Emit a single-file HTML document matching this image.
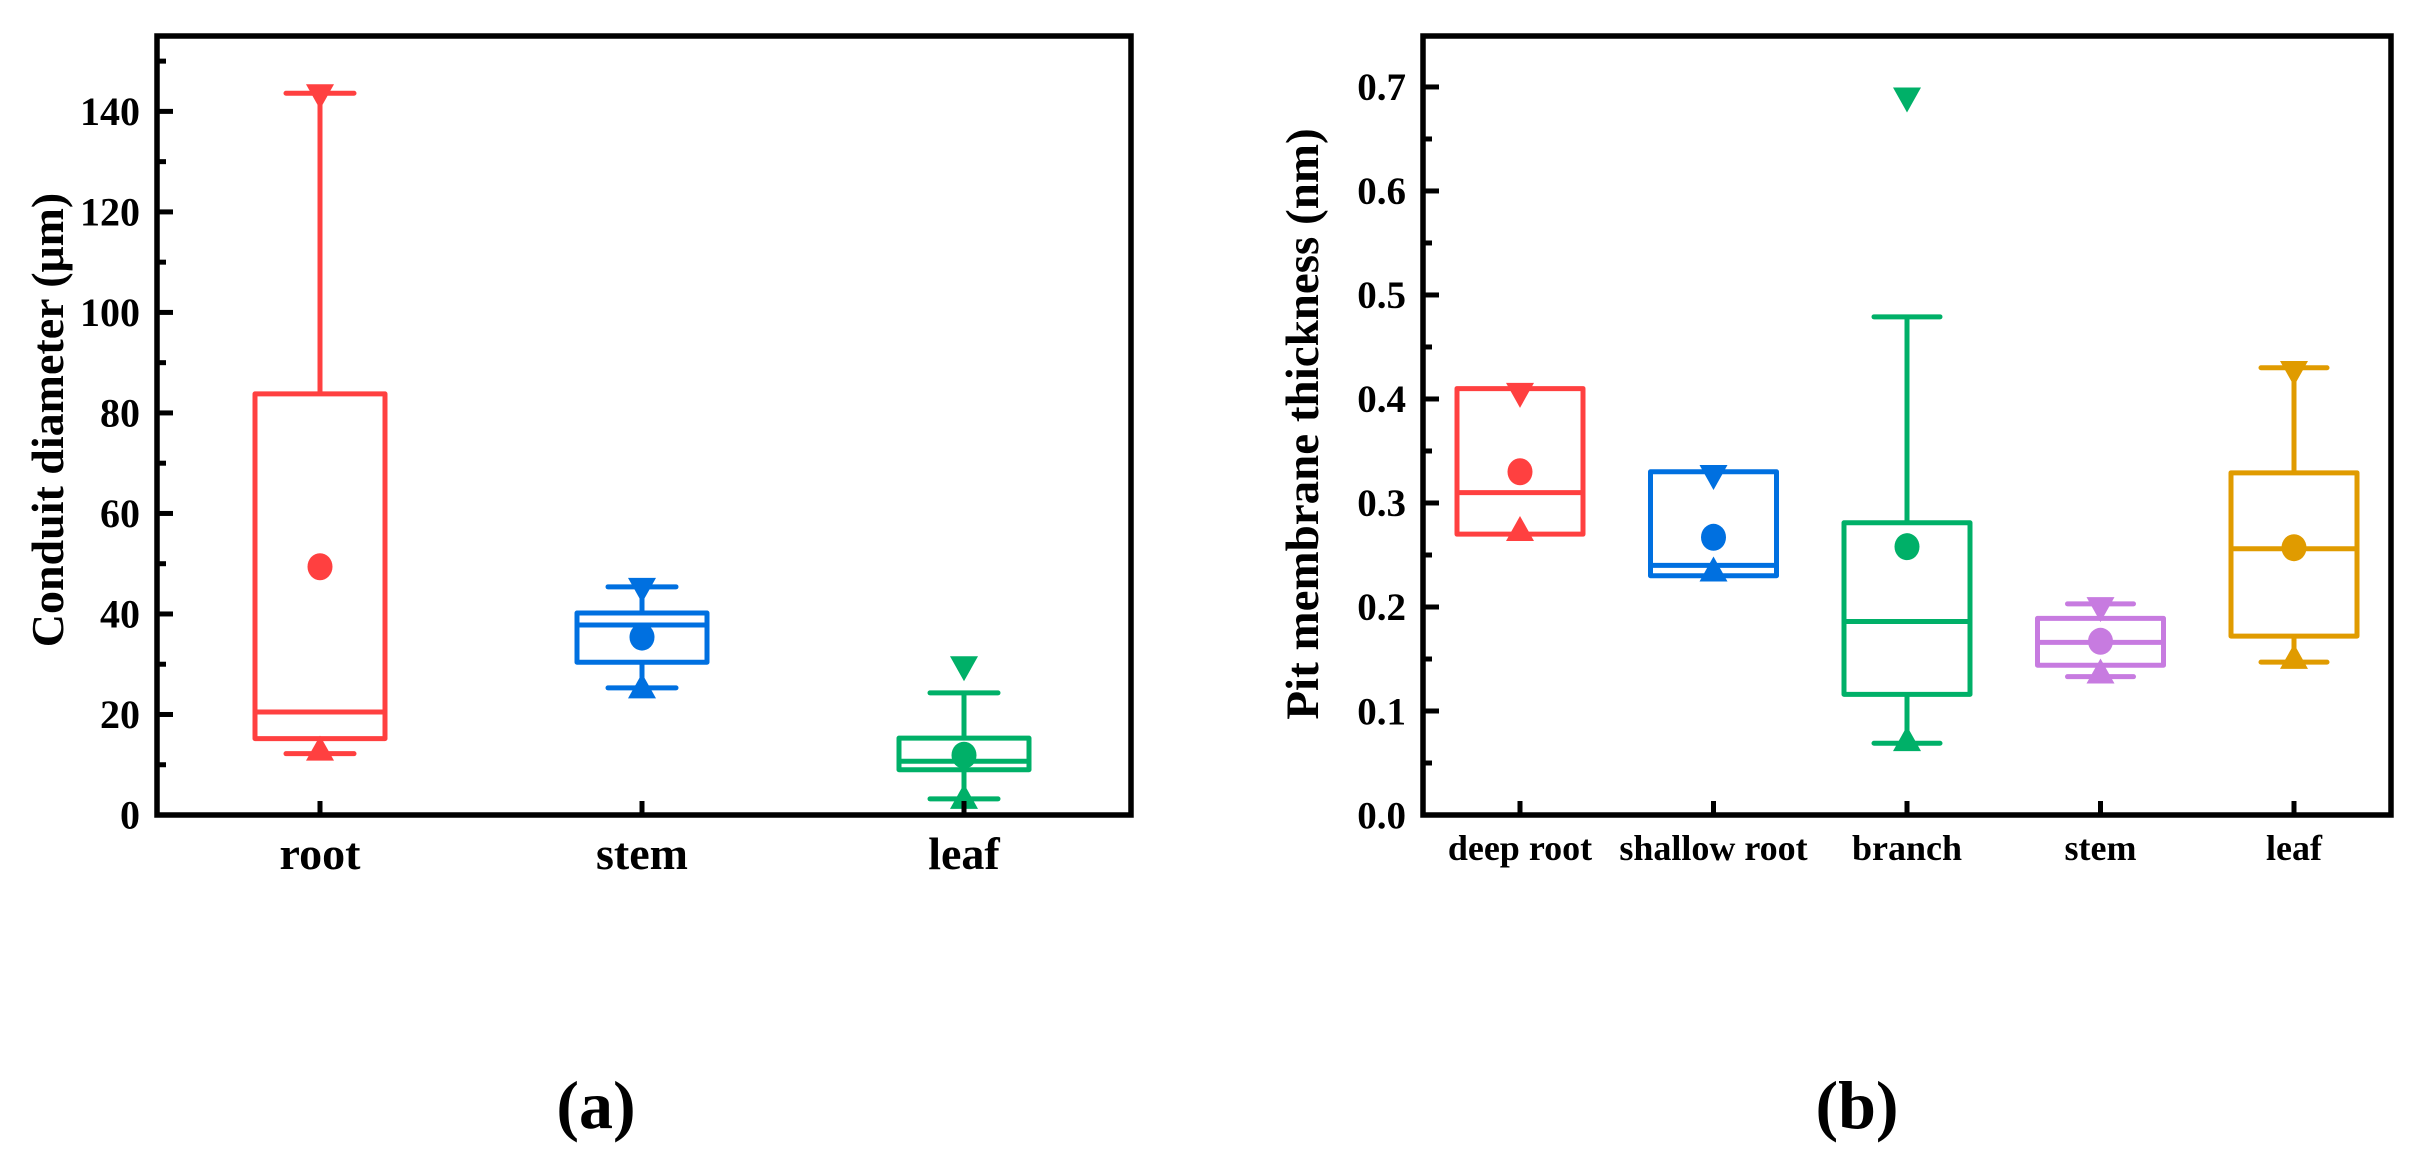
<!DOCTYPE html>
<html><head><meta charset="utf-8">
<style>
html,body{margin:0;padding:0;background:#fff;}
svg{display:block;}
text{font-family:"Liberation Serif",serif;font-weight:bold;fill:#000;}
</style></head>
<body>
<svg id="fig" width="2436" height="1160" viewBox="0 0 2436 1160" xmlns="http://www.w3.org/2000/svg">
<g id="chartA"></g>
<g id="chartB"></g>
<text x="596" y="1128" font-size="68" text-anchor="middle">(a)</text>
<text x="1857" y="1128" font-size="68" text-anchor="middle">(b)</text>
</svg>
<script>
// ---- Chart A data ----
const catsA = ["root", "stem", "leaf"];
const colorsA = ["#ff4040", "#0070e0", "#00b068"];
const whiskerHighA = [143.6, 45.4, 24.3];
const q3A = [83.8, 40.2, 15.3];
const medianA = [20.5, 37.8, 10.7];
const q1A = [15.2, 30.4, 9.0];
const whiskerLowA = [12.2, 25.3, 3.2];
const meanA = [49.4, 35.4, 11.9];
const maxMarkA = [143.0, 44.8, 29.2];
const minMarkA = [13.2, 25.6, 3.6];
const ticksA = [0, 20, 40, 60, 80, 100, 120, 140];
const tickLabelsA = ["0", "20", "40", "60", "80", "100", "120", "140"];

// ---- Chart B data ----
const catsB = ["deep root", "shallow root", "branch", "stem", "leaf"];
const colorsB = ["#ff4040", "#0070e0", "#00b068", "#c77be0", "#e09b00"];
const whiskerHighB = [0.41, 0.33, 0.479, 0.203, 0.43];
const q3B = [0.41, 0.33, 0.281, 0.189, 0.329];
const medianB = [0.31, 0.24, 0.186, 0.166, 0.256];
const q1B = [0.27, 0.23, 0.116, 0.144, 0.172];
const whiskerLowB = [0.27, 0.23, 0.069, 0.133, 0.147];
const meanB = [0.33, 0.267, 0.258, 0.167, 0.257];
const maxMarkB = [0.404, 0.325, 0.688, 0.198, 0.425];
const minMarkB = [0.275, 0.236, 0.073, 0.138, 0.152];
const ticksB = [0, 0.1, 0.2, 0.3, 0.4, 0.5, 0.6, 0.7];
const tickLabelsB = ["0.0", "0.1", "0.2", "0.3", "0.4", "0.5", "0.6", "0.7"];

const NS = "http://www.w3.org/2000/svg";
function mk(tag, attrs, parent){
  const e = document.createElementNS(NS, tag);
  for (const k in attrs) e.setAttribute(k, attrs[k]);
  parent.appendChild(e);
  return e;
}

function drawChart(g, cfg){
  const L=cfg.left, R=cfg.right, T=cfg.top, B=cfg.bottom;
  const yScale = v => B - (v - cfg.ymin) / (cfg.ymax - cfg.ymin) * (B - T);
  const n = cfg.cats.length;
  const xScale = i => cfg.x0 + i * cfg.step;

  cfg.ticks.forEach((t, i) => {
    const y = yScale(t);
    const tk = mk("line", {x1:L, x2:L+16, y1:y, y2:y, stroke:"#000", "stroke-width":5}, g);
    
    
    const lb = mk("text", {x:L-17, y:y + cfg.tickFont*0.34, "font-size":cfg.tickFont, "text-anchor":"end"}, g);
    lb.textContent = cfg.tickLabels[i];
    
    
    const ym = yScale(t + cfg.minorStep);
    if (ym > T + 4) {
      const mn = mk("line", {x1:L, x2:L+9, y1:ym, y2:ym, stroke:"#000", "stroke-width":5}, g);
      
      
    }
  });

  for (let i = 0; i < n; i++){
    const x = xScale(i), c = cfg.colors[i], hw = cfg.boxHalf, ch = cfg.capHalf;
    const grp = mk("g", {}, g);
    
    
    const sw = 5;
    const yq3 = yScale(cfg.q3[i]), yq1 = yScale(cfg.q1[i]);
    if (cfg.wHigh[i] > cfg.q3[i]) {
      mk("line", {x1:x, x2:x, y1:yScale(cfg.wHigh[i]), y2:yq3, stroke:c, "stroke-width":sw}, grp);
      mk("line", {x1:x-ch, x2:x+ch, y1:yScale(cfg.wHigh[i]), y2:yScale(cfg.wHigh[i]), stroke:c, "stroke-width":sw, "stroke-linecap":"round"}, grp);
    }
    if (cfg.wLow[i] < cfg.q1[i]) {
      mk("line", {x1:x, x2:x, y1:yq1, y2:yScale(cfg.wLow[i]), stroke:c, "stroke-width":sw}, grp);
      mk("line", {x1:x-ch, x2:x+ch, y1:yScale(cfg.wLow[i]), y2:yScale(cfg.wLow[i]), stroke:c, "stroke-width":sw, "stroke-linecap":"round"}, grp);
    }
    mk("rect", {x:x-hw, y:yq3, width:2*hw, height:yq1-yq3, fill:"none", stroke:c, "stroke-width":sw, "stroke-linejoin":"round"}, grp);
    const ym = yScale(cfg.median[i]);
    mk("line", {x1:x-hw, x2:x+hw, y1:ym, y2:ym, stroke:c, "stroke-width":sw}, grp);
    const yme = yScale(cfg.mean[i]);
    const mc = mk("ellipse", {cx:x, cy:yme, rx:12.5, ry:13.5, fill:c}, grp);
    
    
    const ya = yScale(cfg.maxMark[i]);
    const td = mk("polygon", {points:`${x-14},${ya-12} ${x+14},${ya-12} ${x},${ya+13}`, fill:c}, grp);
    
    
    const yb = yScale(cfg.minMark[i]);
    const tu = mk("polygon", {points:`${x-14},${yb+12} ${x+14},${yb+12} ${x},${yb-13}`, fill:c}, grp);
    
    
    const xt = mk("line", {x1:x, x2:x, y1:B, y2:B-14, stroke:"#000", "stroke-width":5}, g);
    
    
    const xl = mk("text", {x:x, y:cfg.xLabelY, "font-size":cfg.xFont, "text-anchor":"middle"}, g);
    xl.textContent = cfg.cats[i];
    
    
  }

  const frame = mk("rect", {x:L, y:T, width:R-L, height:B-T, fill:"none", stroke:"#000", "stroke-width":5.5}, g);
  
  

  const title = mk("text", {x:0, y:0, "font-size":cfg.titleFont, "text-anchor":"middle",
    transform:`translate(${cfg.titleX},${cfg.titleY}) rotate(-90)`}, g);
  title.textContent = cfg.title;
  
  
}

drawChart(document.getElementById("chartA"), {
  left:157, right:1131, top:36, bottom:815, ymin:0, ymax:155,
  x0:320, step:322, boxHalf:65, capHalf:34,
  cats:catsA, colors:colorsA, wHigh:whiskerHighA, q3:q3A, median:medianA, q1:q1A, wLow:whiskerLowA,
  mean:meanA, maxMark:maxMarkA, minMark:minMarkA, ticks:ticksA, tickLabels:tickLabelsA, minorStep:10,
  tickFont:40, xFont:46, xLabelY:869, title:"Conduit diameter (μm)", titleFont:46, titleX:63, titleY:420
});
drawChart(document.getElementById("chartB"), {
  left:1423, right:2391, top:36, bottom:815, ymin:0, ymax:0.749,
  x0:1520, step:193.5, boxHalf:63, capHalf:33,
  cats:catsB, colors:colorsB, wHigh:whiskerHighB, q3:q3B, median:medianB, q1:q1B, wLow:whiskerLowB,
  mean:meanB, maxMark:maxMarkB, minMark:minMarkB, ticks:ticksB, tickLabels:tickLabelsB, minorStep:0.05,
  tickFont:39, xFont:36, xLabelY:860, title:"Pit membrane thickness (nm)", titleFont:47, titleX:1318, titleY:424
});
</script>
</body></html>
